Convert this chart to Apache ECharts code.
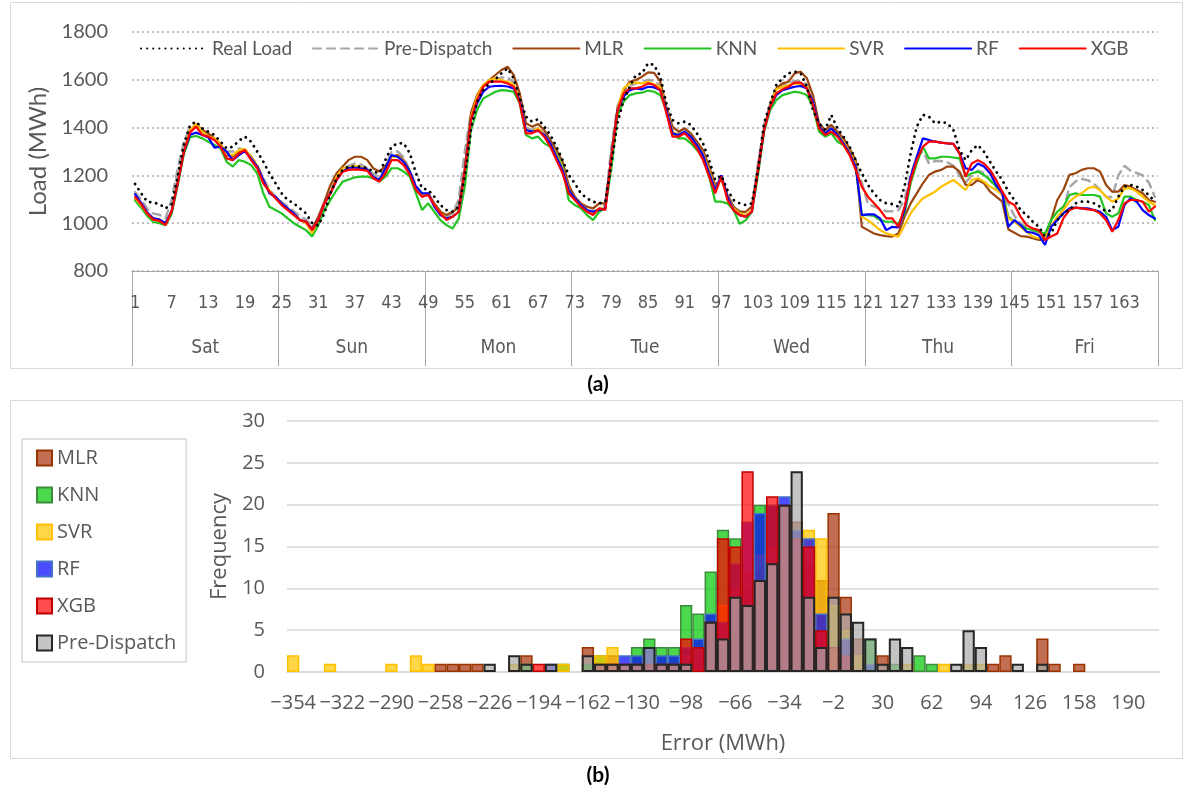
<!DOCTYPE html>
<html><head><meta charset="utf-8">
<script src="https://cdn.jsdelivr.net/npm/echarts@6/dist/echarts.min.js"></script>
<style>html,body{margin:0;padding:0;background:#fff}#a{position:absolute;left:0;top:0;width:1185px;height:395px}#b{position:absolute;left:0;top:395px;width:1185px;height:395px}</style>
</head><body><div id="a"></div><div id="b"></div>
<script>
// ---------- Panel (a) data ----------
const hours = [
1,2,3,4,5,6,7,8,9,10,11,12,13,14,15,16,17,18,19,20,21,22,23,24,
25,26,27,28,29,30,31,32,33,34,35,36,37,38,39,40,41,42,43,44,45,46,47,48,
49,50,51,52,53,54,55,56,57,58,59,60,61,62,63,64,65,66,67,68,69,70,71,72,
73,74,75,76,77,78,79,80,81,82,83,84,85,86,87,88,89,90,91,92,93,94,95,96,
97,98,99,100,101,102,103,104,105,106,107,108,109,110,111,112,113,114,115,116,117,118,119,120,
121,122,123,124,125,126,127,128,129,130,131,132,133,134,135,136,137,138,139,140,141,142,143,144,
145,146,147,148,149,150,151,152,153,154,155,156,157,158,159,160,161,162,163,164,165,166,167,168];
const days = ['Sat','Sun','Mon','Tue','Wed','Thu','Fri'];
const loadTicks = [800,1000,1200,1400,1600,1800];

const realLoad = [
1164,1125,1090,1086,1080,1062,1080,1200,1330,1410,1425,1397,1383,1369,1341,1313,1320,1345,1362,1341,1300,1257,1209,1167,
1125,1097,1083,1062,1041,1000,990,1041,1125,1188,1223,1237,1237,1237,1230,1216,1209,1265,1320,1334,1334,1292,1209,1146,
1139,1111,1076,1055,1048,1069,1195,1390,1508,1557,1585,1602,1627,1648,1606,1522,1446,1425,1435,1404,1369,1320,1264,1202,
1167,1125,1104,1090,1083,1090,1250,1420,1515,1571,1620,1627,1669,1662,1613,1501,1432,1418,1425,1411,1376,1334,1264,1181,
1200,1139,1097,1083,1076,1083,1220,1418,1500,1578,1606,1627,1634,1627,1571,1474,1418,1390,1453,1397,1362,1320,1264,1209,
1160,1125,1097,1083,1080,1069,1153,1292,1404,1453,1446,1418,1425,1418,1390,1306,1264,1306,1327,1299,1257,1216,1181,1132,
1097,1055,1034,1006,985,944,957,1013,1041,1055,1083,1090,1090,1083,1069,1048,1055,1111,1153,1160,1153,1139,1118,1090];
const preDispatch = [
1130,1100,1060,1040,1035,1020,1100,1230,1340,1400,1410,1385,1370,1355,1330,1300,1300,1313,1306,1280,1245,1190,1140,1110,
1090,1070,1050,1030,1015,985,1013,1080,1130,1195,1230,1240,1250,1245,1230,1205,1195,1240,1299,1300,1275,1220,1160,1120,
1120,1080,1050,1030,1040,1100,1300,1460,1530,1570,1590,1600,1610,1610,1590,1520,1400,1390,1400,1375,1340,1290,1230,1150,
1110,1080,1060,1050,1060,1080,1320,1490,1550,1575,1585,1590,1600,1595,1575,1490,1395,1380,1395,1370,1335,1290,1225,1150,
1200,1120,1070,1050,1045,1070,1250,1410,1500,1560,1575,1585,1595,1595,1580,1510,1410,1385,1410,1380,1345,1300,1250,1170,
1080,1070,1060,1050,1050,1055,1100,1200,1280,1300,1250,1260,1260,1255,1240,1200,1170,1200,1220,1210,1180,1150,1120,1080,
1030,1000,980,970,960,955,975,1020,1060,1150,1175,1185,1180,1165,1140,1110,1110,1200,1240,1220,1210,1200,1170,1110];
const mlr = [
1100,1070,1040,1020,1015,1000,1050,1170,1300,1390,1415,1390,1376,1355,1327,1285,1278,1299,1300,1271,1240,1175,1135,1107,
1080,1058,1040,1013,1006,978,1027,1090,1160,1209,1237,1265,1278,1278,1265,1230,1216,1240,1278,1285,1264,1216,1146,1111,
1125,1083,1048,1034,1048,1065,1230,1460,1536,1578,1599,1620,1641,1655,1620,1543,1418,1404,1415,1390,1348,1306,1257,1160,
1111,1083,1069,1062,1083,1083,1280,1480,1557,1592,1599,1613,1631,1629,1592,1487,1404,1383,1397,1376,1341,1306,1237,1160,
1181,1118,1069,1048,1048,1069,1230,1390,1495,1564,1585,1592,1627,1634,1606,1536,1418,1390,1411,1383,1355,1313,1264,985,
971,957,950,946,944,957,1027,1083,1125,1167,1202,1216,1223,1237,1237,1216,1160,1160,1181,1167,1132,1111,1090,974,
960,946,944,937,930,930,1013,1097,1139,1202,1209,1223,1230,1230,1216,1160,1132,1132,1160,1153,1139,1125,1097,1090];
const knn = [
1095,1065,1030,1005,1000,992,1040,1160,1290,1360,1365,1355,1341,1327,1313,1257,1237,1264,1257,1243,1209,1125,1069,1055,
1041,1020,1000,985,971,944,992,1055,1097,1139,1174,1183,1192,1195,1195,1188,1174,1195,1230,1230,1216,1195,1125,1055,
1083,1048,1013,992,978,1020,1153,1390,1474,1522,1536,1550,1557,1555,1550,1501,1369,1355,1362,1334,1320,1292,1237,1097,
1076,1062,1034,1013,1048,1062,1230,1450,1508,1536,1543,1546,1555,1550,1536,1474,1376,1355,1355,1334,1306,1278,1195,1090,
1090,1083,1055,997,1013,1048,1200,1383,1474,1515,1536,1543,1550,1546,1536,1487,1383,1362,1376,1341,1327,1292,1237,1034,
1034,1030,1013,1006,1006,999,1041,1167,1250,1320,1271,1271,1278,1278,1275,1271,1195,1209,1216,1202,1181,1153,1132,1027,
1006,992,978,971,964,957,1013,1048,1069,1118,1125,1118,1118,1118,1111,1041,1027,1041,1111,1111,1097,1090,1076,1013];
const svr = [
1105,1075,1040,1015,1010,1000,1050,1170,1300,1390,1415,1383,1362,1355,1334,1290,1285,1306,1310,1280,1240,1181,1135,1105,
1085,1060,1040,1013,1000,958,1013,1083,1125,1195,1230,1235,1240,1235,1225,1195,1180,1230,1275,1280,1260,1210,1145,1115,
1118,1076,1041,1020,1027,1048,1222,1440,1530,1578,1599,1606,1599,1592,1580,1520,1390,1383,1397,1369,1334,1285,1230,1140,
1104,1076,1055,1041,1062,1062,1280,1480,1564,1585,1588,1585,1592,1580,1570,1480,1383,1369,1383,1362,1327,1290,1220,1145,
1190,1111,1062,1041,1034,1055,1222,1390,1490,1560,1571,1578,1585,1580,1571,1505,1404,1376,1397,1369,1341,1299,1250,1027,
1013,992,971,958,950,944,992,1041,1076,1104,1118,1132,1153,1167,1181,1160,1139,1181,1188,1174,1153,1139,1118,1020,
1006,985,964,944,937,937,985,1027,1055,1090,1111,1125,1146,1153,1139,1111,1090,1104,1146,1146,1132,1111,1090,1076];
const rf = [
1122,1085,1045,1020,1015,1000,1050,1170,1300,1370,1379,1369,1359,1316,1320,1299,1264,1285,1302,1271,1237,1181,1125,1111,
1083,1062,1041,1013,1006,972,1013,1083,1125,1181,1216,1232,1232,1230,1225,1195,1181,1230,1285,1278,1257,1216,1153,1125,
1125,1069,1034,1020,1027,1048,1222,1432,1501,1550,1571,1574,1575,1572,1564,1515,1390,1383,1386,1369,1334,1278,1223,1139,
1104,1076,1055,1048,1055,1062,1280,1475,1530,1557,1564,1560,1571,1568,1557,1474,1376,1369,1383,1362,1327,1285,1209,1139,
1200,1111,1055,1034,1027,1048,1222,1390,1487,1536,1557,1564,1571,1574,1564,1508,1404,1376,1397,1369,1334,1292,1237,1034,
1037,1037,1020,971,985,982,1055,1195,1278,1355,1348,1341,1337,1334,1332,1292,1230,1223,1250,1237,1209,1160,1125,985,
1013,992,964,960,950,909,985,1013,1041,1062,1065,1062,1062,1055,1048,1027,971,985,1076,1104,1090,1055,1034,1020];
const xgb = [
1110,1080,1040,1015,1010,992,1050,1170,1300,1380,1404,1369,1362,1348,1320,1271,1264,1292,1306,1264,1230,1167,1132,1104,
1076,1055,1034,1013,1006,972,1013,1083,1125,1181,1216,1223,1225,1223,1220,1188,1174,1209,1264,1264,1243,1202,1139,1111,
1118,1076,1041,1013,1027,1048,1222,1432,1515,1571,1592,1592,1592,1585,1571,1501,1376,1376,1390,1362,1320,1264,1209,1125,
1097,1069,1048,1034,1062,1055,1280,1470,1543,1564,1564,1571,1585,1578,1557,1460,1362,1362,1376,1348,1313,1264,1195,1125,
1195,1097,1055,1034,1027,1048,1222,1390,1487,1543,1560,1571,1588,1588,1564,1494,1397,1369,1383,1362,1327,1285,1223,1153,
1111,1083,1055,1020,1020,985,1069,1181,1264,1320,1341,1341,1337,1334,1332,1292,1195,1250,1264,1250,1223,1181,1132,1090,
1076,1027,992,978,971,930,944,957,1020,1055,1065,1062,1058,1055,1041,1013,964,1013,1083,1097,1097,1090,1048,1069];

// ---------- Panel (b) data ----------
const bins = [-354,-346,-338,-330,-322,-314,-306,-298,-290,-282,-274,-266,-258,-250,-242,-234,-226,-218,-210,-202,
-194,-186,-178,-170,-162,-154,-146,-138,-130,-122,-114,-106,-98,-90,-82,-74,-66,-58,-50,-42,
-34,-26,-18,-10,-2,6,14,22,30,38,46,54,62,70,78,86,94,102,110,118,126,134,142,150,158,166,174,182,190,198,206];
const freqTicks = [0,5,10,15,20,25,30];
const hMLR = [0,0,0,0,0,0,0,0,0,0,0,0, 1,1,1,1, 0,0,0, 2, 0,0,0,0, 3,1,2, 0,0,0,0,0, 1,2,4,8,10,10,12,13,14,18,13,11,19,9,4, 0,2, 0,0,0,0,0,0,0,0, 1,2,0,0,4,1,0,1, 0,0,0,0,0,0];
const hKNN = [0,0,0,0,0,0,0,0,0,0,0,0,0,0,0,0,0,0,0, 1, 0,0, 1, 0, 1, 2, 0,0, 3,4,3,3, 8,7,12,17,16,10,20,20,20,6,4,2, 0,0,0, 4, 0, 1, 0, 2, 1, 0,0,0,0,0,0,0,0,0,0,0,0,0,0,0,0,0,0];
const hSVR = [2,0,0,1,0,0,0,0,1,0,2,1, 0,0,0,0,0,0, 1, 0,0,0, 1, 0,0, 2,3, 0,0,0,0,0, 2,3,5,8,10,12,14,15,15,14,17,16,8,5,2, 0,0,0, 1, 0,0, 1, 0, 1,1, 0,0,0,0,0,0,0,0,0,0,0,0,0,0];
const hRF = [0,0,0,0,0,0,0,0,0,0,0,0,0,0,0,0,0,0,0,0,0, 1, 0,0,0,0,0, 2,2,3,2,2, 3,4,7,6,13,18,19,20,21,17,16,7, 0, 4, 0, 1, 0,0,0,0,0,0,0,0,0,0,0,0,0,0,0,0,0,0,0,0,0,0,0];
const hXGB = [0,0,0,0,0,0,0,0,0,0,0,0,0,0,0,0,0,0,0,0, 1, 0,0,0,0, 1,1,1,1,1,1,1, 4,3,6,16,15,24,11,21,20,16,15,5,3,2, 0,0,0,0,0,0,0,0,0,0,0,0,0,0,0,0,0,0,0,0,0,0,0,0,0];
const hPD = [0,0,0,0,0,0,0,0,0,0,0,0,0,0,0,0, 1, 0, 2, 1, 0, 1, 0,0, 2,1,1,1,1,3,1,1,1,0, 6,4,9,8,11,13,20,24,9,3,9,7,6,4,1,4,3, 0,0,0, 1,5,3, 0,0, 1, 0, 1, 0,0,0,0,0,0,0,0,0];

// ---------- styling ----------
const TXT = '#595959';
const FA = 'Lato, "Open Sans", sans-serif';
const FN = '"Liberation Sans Narrow", "DejaVu Sans Condensed", Lato, sans-serif';
const FB = '"Open Sans", "Noto Sans", sans-serif';

function ln(name, data, color, width, type, z) {
  return {name, type:'line', data, xAxisIndex:0, yAxisIndex:0, symbol:'none', smooth:false, z,
    lineStyle:{color, width, type: type || 'solid', cap: 'round'}, itemStyle:{color}};
}

const chartA = echarts.init(document.getElementById('a'));
chartA.setOption({
  animation:false,
  backgroundColor:'#fff',
  graphic:[
    {type:'rect', shape:{x:10.5,y:2.5,width:1172,height:366}, style:{fill:'none', stroke:'#d9d9d9', lineWidth:1}, silent:true},
    {type:'text', x:598, y:384, style:{text:'(a)', font:'bold 21px Lato', fill:'#000', textAlign:'center', textVerticalAlign:'middle'}}
  ],
  legend:{data:['Real Load','Pre-Dispatch','MLR','KNN','SVR','RF','XGB'], left:135, top:34,
    itemWidth:66, itemHeight:14, itemGap:20, itemStyle:{opacity:0},
    textStyle:{fontSize:19, color:TXT, fontFamily:FA}},
  grid:{left:132, top:32, width:1026, height:239},
  xAxis:[
    {type:'category', data:hours, boundaryGap:true, position:'bottom', offset:0,
     axisLine:{lineStyle:{color:'#a6a6a6', width:1}}, axisTick:{show:false},
     axisLabel:{interval:5, margin:23, fontSize:18, color:TXT, fontFamily:FN}, splitLine:{show:false}},
    {type:'category', data:days, boundaryGap:true, position:'bottom', offset:0,
     axisLine:{show:false}, axisTick:{show:true, interval:0, length:95, lineStyle:{color:'#a6a6a6', width:1}},
     axisLabel:{margin:68, fontSize:19, color:TXT, fontFamily:FN}, splitLine:{show:false}}
  ],
  yAxis:{type:'value', min:loadTicks[0], max:loadTicks[loadTicks.length-1], interval:200,
    axisLine:{show:false}, axisTick:{show:false},
    axisLabel:{fontSize:20, color:TXT, fontFamily:FA, margin:24, formatter: v => String(v)},
    splitLine:{lineStyle:{color:'#bfbfbf', width:2, type:[2,3]}},
    name:'Load (MWh)', nameLocation:'middle', nameGap:80, nameTextStyle:{fontSize:24, color:TXT, fontFamily:FA}},
  series:[
    ln('Pre-Dispatch', preDispatch, '#a6a6a6', 2.5, [8,6], 2),
    ln('MLR', mlr, '#9c450f', 2.2, 'solid', 3),
    ln('KNN', knn, '#22c422', 2.2, 'solid', 4),
    ln('SVR', svr, '#ffc000', 2.2, 'solid', 5),
    ln('RF', rf, '#0000ff', 2.2, 'solid', 6),
    ln('XGB', xgb, '#ff0000', 2.2, 'solid', 7),
    ln('Real Load', realLoad, '#000000', 2.8, [0.1,6], 8)
  ]
});

function hb(name, data, fill, border, bw) {
  return {name, type:'bar', data: data.map(v => v === 0 ? null : v), barWidth:'100%', barGap:'-100%', barCategoryGap:0,
    itemStyle:{color:fill, borderColor:border, borderWidth:bw}};
}
const chartB = echarts.init(document.getElementById('b'));
chartB.setOption({
  animation:false,
  backgroundColor:'#fff',
  graphic:[
    {type:'rect', shape:{x:10.5,y:5.5,width:1172,height:358}, style:{fill:'none', stroke:'#d9d9d9', lineWidth:1}, silent:true},
    {type:'text', x:598, y:380, style:{text:'(b)', font:'bold 21px Lato', fill:'#000', textAlign:'center', textVerticalAlign:'middle'}}
  ],
  legend:{orient:'vertical', left:22, top:44, data:['MLR','KNN','SVR','RF','XGB','Pre-Dispatch'],
    icon:'rect', itemWidth:15, itemHeight:15, itemGap:17, padding:[9,10,9,14],
    borderColor:'#d9d9d9', borderWidth:1.5,
    textStyle:{fontSize:20, color:TXT, fontFamily:FB}},
  grid:{left:287, top:26, width:872, height:251},
  xAxis:{type:'category', data:bins, 
    axisLine:{lineStyle:{color:'#d9d9d9', width:1.5}}, axisTick:{show:false},
    axisLabel:{interval:3, margin:21, fontSize:20, color:TXT, fontFamily:FB, formatter: v => String(v).replace('-', '\u2212')},
    name:'Error (MWh)', nameLocation:'middle', nameGap:61, nameTextStyle:{fontSize:22, color:TXT, fontFamily:FB}},
  yAxis:{type:'value', min:freqTicks[0], max:freqTicks[freqTicks.length-1], interval:5,
    axisLine:{show:false}, axisTick:{show:false},
    axisLabel:{fontSize:20, color:TXT, fontFamily:FB, margin:22},
    splitLine:{lineStyle:{color:'#d9d9d9', width:1.5}},
    name:'Frequency', nameLocation:'middle', nameGap:54, nameTextStyle:{fontSize:22, color:TXT, fontFamily:FB}},
  series:[
    hb('MLR', hMLR, 'rgba(165,42,0,0.68)', '#993300', 1.5),
    hb('KNN', hKNN, 'rgba(0,200,0,0.7)', '#3d8b3d', 1.5),
    hb('SVR', hSVR, 'rgba(255,198,0,0.72)', '#ffc000', 1.5),
    hb('RF', hRF, 'rgba(0,0,255,0.7)', '#4472c4', 1.5),
    hb('XGB', hXGB, 'rgba(255,0,0,0.7)', '#c00000', 1.5),
    hb('Pre-Dispatch', hPD, 'rgba(171,171,171,0.7)', '#262626', 2)
  ]
});
</script></body></html>
